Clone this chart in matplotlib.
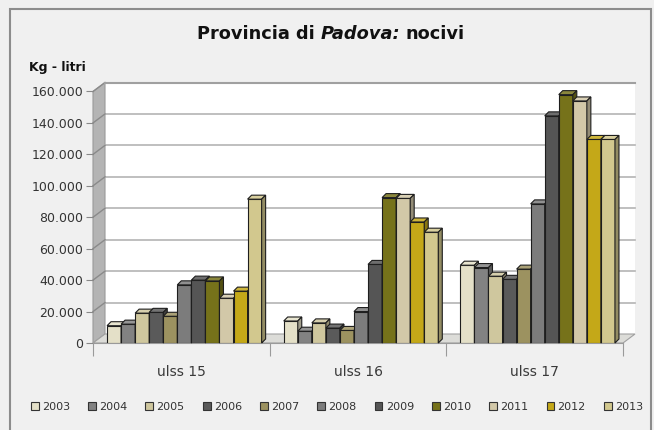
import numpy as np
import matplotlib
matplotlib.use('Agg')
import matplotlib.pyplot as plt
from matplotlib.patches import Polygon, Rectangle, Patch
from matplotlib.colors import to_rgb

categories = ['ulss 15', 'ulss 16', 'ulss 17']
years = ['2003', '2004', '2005', '2006', '2007', '2008', '2009', '2010', '2011', '2012', '2013']
ulss15 = [11000, 12000, 19000, 19500, 17000, 37000, 40000, 39500, 28500, 33000, 91500]
ulss16 = [14000, 7500, 12800, 9500, 8000, 20000, 50000, 92500, 92000, 77000, 70500]
ulss17 = [49500, 48000, 42500, 40500, 47000, 88500, 144500, 158000, 154000, 129500, 129500]
colors = ['#e4e0c8', '#828282', '#cfc79e', '#5a5a5a', '#9c9260', '#7c7c7c',
          '#555555', '#76721a', '#d2c8a8', '#c4a818', '#d2c88e']
y_ticks = np.arange(0, 160001, 20000)

values = [ulss15, ulss16, ulss17]

W, H = 654, 430
fig = plt.figure(figsize=(W / 100, H / 100), dpi=100, facecolor='#f0f0f0')

# outer frame
fig.add_artist(Rectangle((10 / W, -0.05), 641 / W, (H - 9) / H + 0.05,
                         transform=fig.transFigure, fill=False,
                         edgecolor='#8c8c8c', lw=1.5))

ax = fig.add_axes([93 / W, (H - 343) / H, 530 / W, (343 - 91.5) / H])
ax.set_xlim(-0.5, 2.5)
ax.set_ylim(0, 160000)
ax.patch.set_visible(False)
for s in ['top', 'right', 'left']:
    ax.spines[s].set_visible(False)
ax.spines['bottom'].set_color('#9a9a9a')

# pixel -> data helpers
sx = 3.0 / ax.bbox.width
sy = 160000.0 / ax.bbox.height
wdx, wdy = 12 * sx, 9 * sy      # wall depth
bdx, bdy = 4 * sx, 4 * sy       # bar depth
x0, x1, ytop = -0.5, 2.5, 160000

# back wall
ax.add_patch(Rectangle((x0 + wdx, wdy), x1 - x0, ytop, facecolor='white',
                       edgecolor='none', zorder=0, clip_on=False))
ax.plot([x0 + wdx, x1 + wdx], [ytop + wdy] * 2, color='#a0a0a0', lw=1.5,
        zorder=0.6, clip_on=False)
# left wall
ax.add_patch(Polygon([(x0, 0), (x0 + wdx, wdy), (x0 + wdx, ytop + wdy), (x0, ytop)],
                     closed=True, facecolor='#b4b4b4', edgecolor='#9a9a9a',
                     lw=0.8, zorder=0.4, clip_on=False))
# gridlines on back wall and left wall
for v in y_ticks[1:]:
    ax.plot([x0 + wdx, x1 + wdx], [v + wdy] * 2, color='#b4b4b4', lw=1.2,
            zorder=0.5, clip_on=False)
    ax.plot([x0, x0 + wdx], [v, v + wdy], color='#8a8a8a', lw=1.0,
            zorder=0.5, clip_on=False)
# floor
ax.add_patch(Polygon([(x0, 0), (x1, 0), (x1 + wdx, wdy), (x0 + wdx, wdy)],
                     closed=True, facecolor='#dcdcd8', edgecolor='#a0a0a0',
                     lw=0.8, zorder=1, clip_on=False))


def shade(c, f):
    r = np.array(to_rgb(c))
    if f > 1:
        return tuple(r + (1 - r) * (f - 1))
    return tuple(r * f)


group_w = 0.875
bw = group_w / len(years)
shift = 3 * sx
for i, vals in enumerate(values):
    for j, v in enumerate(vals):
        left = i - group_w / 2 + j * bw + shift
        z = 3 + j * 0.1
        ax.bar(left, v, width=bw, align='edge', color=colors[j],
               edgecolor='#1e1e1e', lw=0.8, zorder=z)
        ax.add_patch(Polygon([(left, v), (left + bw, v), (left + bw + bdx, v + bdy),
                              (left + bdx, v + bdy)], closed=True,
                             facecolor=shade(colors[j], 1.15), edgecolor='#1e1e1e',
                             lw=0.8, zorder=z, clip_on=False))
        ax.add_patch(Polygon([(left + bw, 0), (left + bw + bdx, bdy),
                              (left + bw + bdx, v + bdy), (left + bw, v)], closed=True,
                             facecolor=shade(colors[j], 0.7), edgecolor='#1e1e1e',
                             lw=0.8, zorder=z, clip_on=False))

# axes ticks
ax.set_yticks(y_ticks)
ax.set_yticklabels([f'{int(v):,}'.replace(',', '.') for v in y_ticks])
ax.tick_params(axis='y', length=5, color='#888888', labelcolor='#333333',
               labelsize=9, pad=2)
ax.set_xticks([-0.5, 0.5, 1.5, 2.5])
ax.set_xticklabels([''] * 4)
ax.tick_params(axis='x', which='major', length=9, color='#9a9a9a')
ax.set_xticks([0, 1, 2], minor=True)
ax.set_xticklabels(categories, minor=True)
ax.tick_params(axis='x', which='minor', length=0, pad=16, labelsize=10,
               labelcolor='#3a3a3a')

fig.text(57 / W, 1 - 68 / H, 'Kg - litri', fontsize=9, fontweight='bold',
         ha='center', va='center', color='#111111')

# title with italic part
ty = 1 - 34 / H
fs = 12.8
parts = [('Provincia di', 'normal'), ('Padova:', 'italic'), ('nocivi', 'normal')]
texts = [fig.text(0, ty, s, fontsize=fs, fontweight='bold', style=st,
                  ha='left', va='center', color='#111111') for s, st in parts]
fig.canvas.draw()
r = fig.canvas.get_renderer()
widths = [t.get_window_extent(r).width for t in texts]
gap = 0.32 * fs * 100 / 72
total = sum(widths) + gap * 2
xpos = 331 - total / 2
for t, w in zip(texts, widths):
    t.set_x(xpos / W)
    xpos += w + gap

handles = [Patch(facecolor=c, edgecolor='#333333', lw=0.8) for c in colors]
fig.legend(handles=handles, labels=years, loc='center',
           bbox_to_anchor=(337 / W, 1 - 407 / H), ncol=11, frameon=False,
           fontsize=8, handlelength=0.7, handleheight=0.7, handletextpad=0.3,
           columnspacing=1.62, labelcolor='#333333')

fig.savefig('out.png', dpi=100, facecolor=fig.get_facecolor())
